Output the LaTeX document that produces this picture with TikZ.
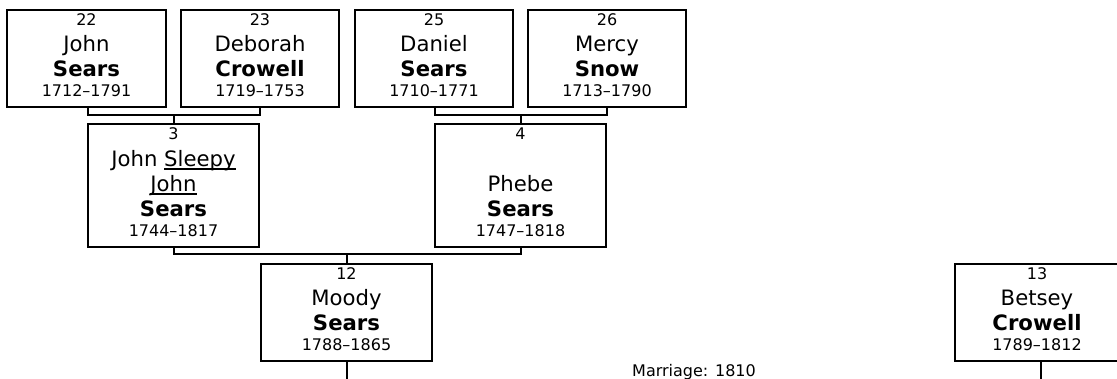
\documentclass[tikz,border=0pt]{standalone}
\usepackage{fontspec}
\setmainfont{DejaVu Sans}
\newcommand{\bigf}{\fontsize{21.2}{25}\selectfont}
\newcommand{\smallf}{\fontsize{16}{19}\selectfont}
\newcommand{\undl}[1]{\setbox0\hbox{#1}\rlap{\rule[-2.6pt]{\wd0}{1.3pt}}\box0}
\tikzset{
  pbox/.style={draw=black, line width=2pt, rectangle, inner sep=0pt, outer sep=0pt, fill=white},
  conn/.style={draw=black, line width=2pt},
  num/.style={anchor=base, inner sep=0pt, font=\smallf},
  nm/.style={anchor=base, inner sep=0pt, font=\bigf},
  sur/.style={anchor=base, inner sep=0pt, font=\bigf\bfseries},
  dt/.style={anchor=base, inner sep=0pt, font=\smallf},
}
\begin{document}
\begin{tikzpicture}[x=1pt,y=-1pt]
\useasboundingbox (0,0) rectangle (1117,379);
\begin{scope}
\clip (0,0) rectangle (1117,379);
% boxes
\node[pbox, minimum width=159pt, minimum height=97pt] (p22) at (86.5,58.5) {};
\node[pbox, minimum width=158pt, minimum height=97pt] (p23) at (260,58.5) {};
\node[pbox, minimum width=158pt, minimum height=97pt] (p25) at (434,58.5) {};
\node[pbox, minimum width=158pt, minimum height=97pt] (p26) at (607,58.5) {};
\node[pbox, minimum width=171pt, minimum height=123pt] (p3) at (173.5,185.5) {};
\node[pbox, minimum width=171pt, minimum height=123pt] (p4) at (520.5,185.5) {};
\node[pbox, minimum width=171pt, minimum height=97pt] (p12) at (346.5,312.5) {};
\node[pbox, minimum width=171pt, minimum height=97pt] (p13) at (1040.5,312.5) {};
% connectors
\coordinate (j1) at (173.5,115);
\coordinate (j2) at (520.5,115);
\coordinate (j3) at (346.5,254);
\draw[conn] (p22.south -| p3.west) |- (j1) -| (p23.south);
\draw[conn] (j1) -- (p3.north);
\draw[conn] (p25.south -| p4.west) |- (j2) -| (p26.south);
\draw[conn] (j2) -- (p4.north);
\draw[conn] (p3.south) |- (j3) -| (p4.south);
\draw[conn] (j3) -- (p12.north);
\coordinate (e12) at (346.5,385);
\coordinate (e13) at (1040.5,385);
\draw[conn] (p12.south) -- (e12);
\draw[conn] (p13.south) -- (e13);
% texts
\node[num] (t22a) at (86.5,26) {22};
\node[nm]  (t22b) at (86.5,52) {John};
\node[sur] (t22c) at (86.5,77) {Sears};
\node[dt]  (t22d) at (86.5,97) {1712–1791};
\node[num] (t23a) at (260,26) {23};
\node[nm]  (t23b) at (260,52) {Deborah};
\node[sur] (t23c) at (260,77) {Crowell};
\node[dt]  (t23d) at (260,97) {1719–1753};
\node[num] (t25a) at (434,26) {25};
\node[nm]  (t25b) at (434,52) {Daniel};
\node[sur] (t25c) at (434,77) {Sears};
\node[dt]  (t25d) at (434,97) {1710–1771};
\node[num] (t26a) at (607,26) {26};
\node[nm]  (t26b) at (607,52) {Mercy};
\node[sur] (t26c) at (607,77) {Snow};
\node[dt]  (t26d) at (607,97) {1713–1790};
\node[num] (t3a) at (173.5,140) {3};
\node[nm]  (t3b) at (173.5,167) {John \undl{Sleepy}};
\node[nm]  (t3c) at (173.5,192) {\undl{John}};
\node[sur] (t3d) at (173.5,217) {Sears};
\node[dt]  (t3e) at (173.5,237) {1744–1817};
\node[num] (t4a) at (520.5,140) {4};
\node[nm]  (t4b) at (520.5,192) {Phebe};
\node[sur] (t4c) at (520.5,217) {Sears};
\node[dt]  (t4d) at (520.5,237) {1747–1818};
\node[num] (t12a) at (346.5,280) {12};
\node[nm]  (t12b) at (346.5,306) {Moody};
\node[sur] (t12c) at (346.5,331) {Sears};
\node[dt]  (t12d) at (346.5,351) {1788–1865};
\node[num] (t13a) at (1037,280) {13};
\node[nm]  (t13b) at (1037,306) {Betsey};
\node[sur] (t13c) at (1037,331) {Crowell};
\node[dt]  (t13d) at (1037,351) {1789–1812};
\node[dt]  (mar) at (694,377) {Marriage: 1810};
\end{scope}
\end{tikzpicture}
\end{document}
